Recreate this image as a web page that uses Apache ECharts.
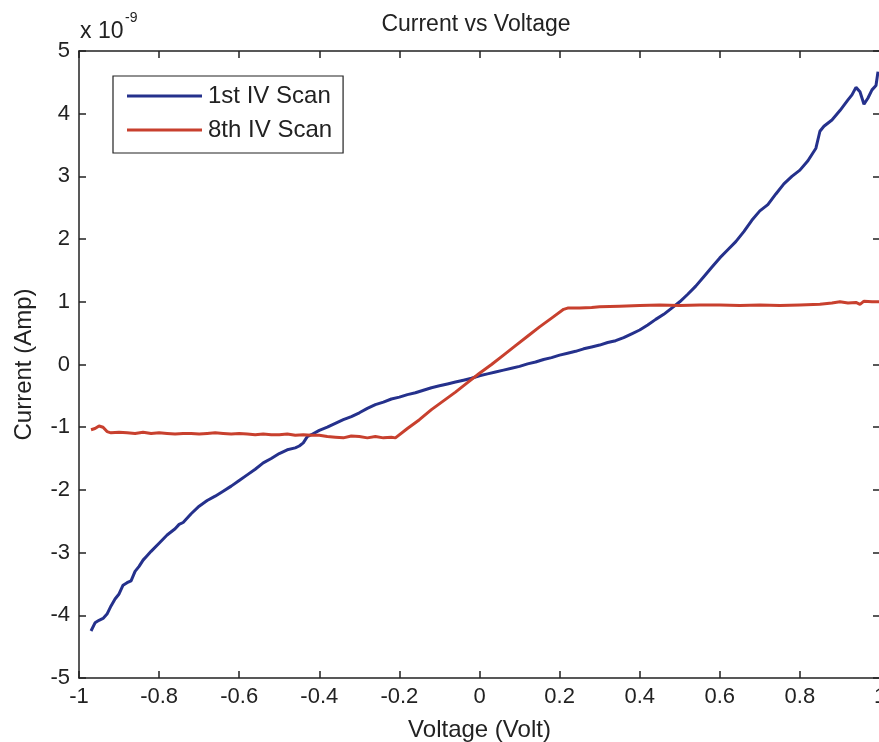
<!DOCTYPE html>
<html>
<head>
<meta charset="utf-8">
<script src="https://cdn.jsdelivr.net/npm/echarts@6/dist/echarts.min.js"></script>
<style>html,body{margin:0;padding:0;background:#fff;}#c{width:879px;height:742px;}</style>
</head>
<body>
<div id="c"></div>
<script>
var titleText = 'Current vs Voltage';
var xName = 'Voltage (Volt)';
var yName = 'Current (Amp)';
var seriesNames = ['1st IV Scan', '8th IV Scan'];
var xTicks = [-1, -0.8, -0.6, -0.4, -0.2, 0, 0.2, 0.4, 0.6, 0.8, 1];
var yTicks = [-5, -4, -3, -2, -1, 0, 1, 2, 3, 4, 5];

var scan1X = [-0.97,-0.96,-0.95,-0.94,-0.93,-0.92,-0.91,-0.90,-0.89,-0.88,-0.87,-0.86,-0.85,-0.84,-0.83,-0.82,-0.80,-0.78,-0.76,-0.75,-0.74,-0.72,-0.70,-0.68,-0.66,-0.64,-0.62,-0.60,-0.58,-0.56,-0.54,-0.52,-0.50,-0.48,-0.46,-0.45,-0.44,-0.43,-0.42,-0.40,-0.38,-0.36,-0.34,-0.32,-0.30,-0.28,-0.26,-0.24,-0.22,-0.20,-0.18,-0.16,-0.14,-0.12,-0.10,-0.08,-0.06,-0.04,-0.02,0.00,0.02,0.04,0.06,0.08,0.10,0.12,0.14,0.16,0.18,0.20,0.22,0.24,0.26,0.28,0.30,0.32,0.34,0.36,0.38,0.40,0.42,0.44,0.46,0.48,0.50,0.52,0.54,0.56,0.58,0.60,0.62,0.64,0.66,0.68,0.70,0.72,0.74,0.76,0.78,0.80,0.82,0.84,0.85,0.86,0.88,0.90,0.92,0.93,0.94,0.95,0.96,0.97,0.98,0.99,0.995];
var scan1Y = [-4.25,-4.12,-4.08,-4.05,-3.98,-3.85,-3.74,-3.66,-3.52,-3.48,-3.45,-3.30,-3.22,-3.12,-3.05,-2.98,-2.85,-2.72,-2.62,-2.55,-2.52,-2.38,-2.26,-2.17,-2.10,-2.02,-1.94,-1.85,-1.76,-1.67,-1.57,-1.50,-1.42,-1.36,-1.33,-1.30,-1.25,-1.15,-1.12,-1.05,-1.00,-0.94,-0.88,-0.83,-0.77,-0.70,-0.64,-0.60,-0.55,-0.52,-0.48,-0.45,-0.41,-0.37,-0.34,-0.31,-0.28,-0.25,-0.22,-0.18,-0.15,-0.12,-0.09,-0.06,-0.03,0.01,0.04,0.08,0.11,0.15,0.18,0.21,0.25,0.28,0.31,0.35,0.38,0.43,0.49,0.55,0.63,0.72,0.80,0.90,1.00,1.12,1.25,1.40,1.55,1.70,1.83,1.96,2.12,2.30,2.45,2.55,2.72,2.88,3.00,3.10,3.25,3.45,3.72,3.80,3.90,4.05,4.22,4.30,4.42,4.35,4.15,4.25,4.38,4.45,4.67];

var scan8X = [-0.97,-0.96,-0.95,-0.94,-0.93,-0.92,-0.90,-0.88,-0.86,-0.84,-0.82,-0.80,-0.78,-0.76,-0.74,-0.72,-0.70,-0.68,-0.66,-0.64,-0.62,-0.60,-0.58,-0.56,-0.54,-0.52,-0.50,-0.48,-0.46,-0.44,-0.42,-0.40,-0.38,-0.36,-0.34,-0.32,-0.30,-0.28,-0.26,-0.24,-0.22,-0.21,-0.18,-0.15,-0.12,-0.09,-0.06,-0.03,0.00,0.03,0.06,0.09,0.12,0.15,0.18,0.21,0.22,0.25,0.28,0.30,0.35,0.40,0.45,0.50,0.55,0.60,0.65,0.70,0.75,0.80,0.85,0.88,0.90,0.92,0.94,0.95,0.96,0.98,1.00];
var scan8Y = [-1.04,-1.02,-0.98,-1.00,-1.07,-1.09,-1.08,-1.09,-1.10,-1.08,-1.10,-1.09,-1.10,-1.11,-1.10,-1.10,-1.11,-1.10,-1.09,-1.10,-1.11,-1.10,-1.11,-1.12,-1.11,-1.12,-1.12,-1.11,-1.13,-1.12,-1.13,-1.13,-1.15,-1.16,-1.17,-1.14,-1.15,-1.17,-1.15,-1.17,-1.16,-1.17,-1.02,-0.88,-0.72,-0.58,-0.44,-0.29,-0.14,0.00,0.15,0.30,0.45,0.60,0.74,0.88,0.90,0.90,0.91,0.92,0.93,0.94,0.95,0.94,0.95,0.95,0.94,0.95,0.94,0.95,0.96,0.98,1.00,0.98,0.99,0.96,1.01,1.00,1.00];

function pairs(xs, ys) { return xs.map(function (x, i) { return [x, ys[i]]; }); }

var FONT = 'Liberation Sans, Arial, sans-serif';
var TXT = '#222';
var chart = echarts.init(document.getElementById('c'), null, {renderer: 'canvas'});

function fmtX(v) { var r = Math.round(v * 10) / 10; return String(r); }

var axisLine = {show: true, onZero: false, lineStyle: {color: '#222', width: 1.5}};
var axisTick = {show: true, inside: true, length: 7, lineStyle: {color: '#222', width: 1.5}};

chart.setOption({
  backgroundColor: '#fff',
  animation: false,
  graphic: [{
    type: 'text', x: 476, y: 25,
    style: {text: titleText, fontFamily: FONT, fontSize: 23, fill: TXT, align: 'center', verticalAlign: 'middle'}
  }, {
    type: 'text', x: 80, y: 32,
    style: {text: 'x 10', fontFamily: FONT, fontSize: 23, fill: TXT, align: 'left', verticalAlign: 'middle'}
  }, {
    type: 'text', x: 125, y: 18,
    style: {text: '-9', fontFamily: FONT, fontSize: 14, fill: TXT, align: 'left', verticalAlign: 'middle'}
  }],
  legend: {
    left: 113, top: 76, orient: 'vertical',
    borderColor: '#222', borderWidth: 1.2,
    padding: [8, 11, 11, 14],
    itemGap: 10, itemWidth: 75, itemHeight: 3,
    icon: 'rect',
    textStyle: {fontFamily: FONT, fontSize: 24, color: TXT, padding: [0, 0, 0, 1]},
    data: seriesNames
  },
  grid: {left: 79, top: 51, right: -1, bottom: 64, containLabel: false, outerBoundsMode: 'none'},
  xAxis: [{
    type: 'value', min: xTicks[0], max: xTicks[xTicks.length - 1], interval: 0.2,
    name: xName, nameLocation: 'middle', nameGap: 40,
    nameTextStyle: {fontFamily: FONT, fontSize: 24, color: TXT},
    axisLine: axisLine, axisTick: axisTick, splitLine: {show: false},
    axisLabel: {fontFamily: FONT, fontSize: 22, color: TXT, margin: 8, formatter: fmtX}
  }, {
    type: 'value', position: 'top', min: -1, max: 1, interval: 0.2,
    axisLine: axisLine, axisTick: axisTick, splitLine: {show: false}, axisLabel: {show: false}
  }],
  yAxis: [{
    type: 'value', min: yTicks[0], max: yTicks[yTicks.length - 1], interval: 1,
    name: yName, nameLocation: 'middle', nameGap: 43,
    nameTextStyle: {fontFamily: FONT, fontSize: 24, color: TXT},
    axisLine: axisLine, axisTick: axisTick, splitLine: {show: false},
    axisLabel: {fontFamily: FONT, fontSize: 22, color: TXT, margin: 9}
  }, {
    type: 'value', position: 'right', min: -5, max: 5, interval: 1,
    axisLine: axisLine, axisTick: axisTick, splitLine: {show: false}, axisLabel: {show: false}
  }],
  series: [{
    name: seriesNames[0], type: 'line', showSymbol: false, symbol: 'none',
    data: pairs(scan1X, scan1Y),
    itemStyle: {color: '#25318c'},
    lineStyle: {color: '#25318c', width: 3}
  }, {
    name: seriesNames[1], type: 'line', showSymbol: false, symbol: 'none',
    data: pairs(scan8X, scan8Y),
    itemStyle: {color: '#c8402e'},
    lineStyle: {color: '#c8402e', width: 3}
  }]
});
</script>
</body>
</html>
